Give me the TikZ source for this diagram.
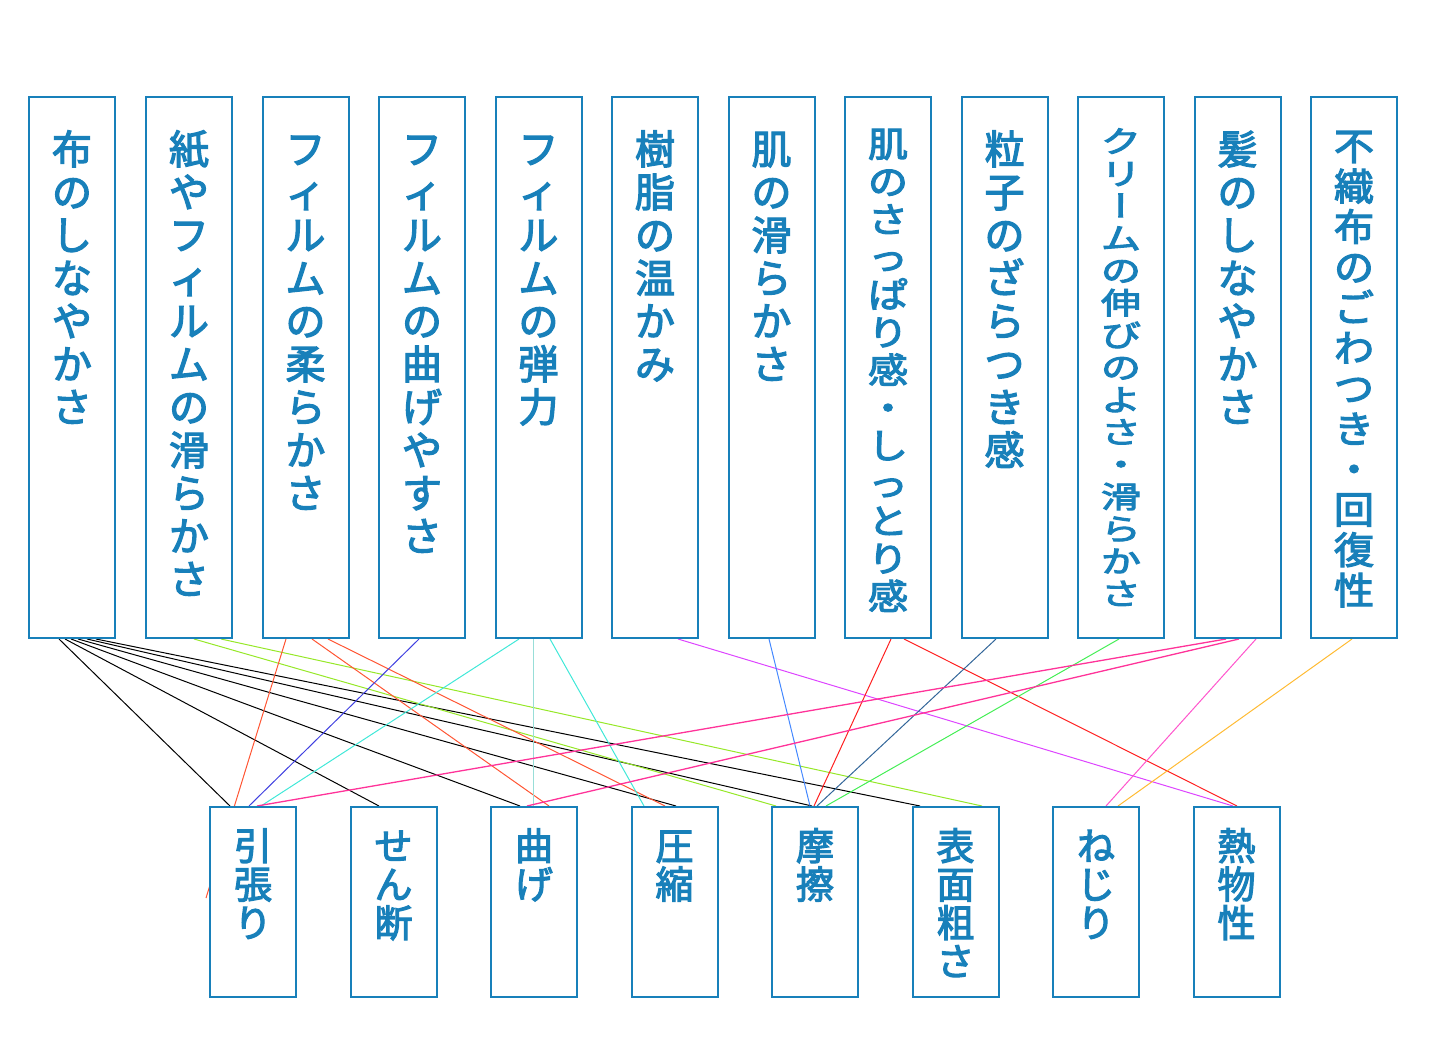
\documentclass[tikz,border=0pt]{standalone}
\usepackage{fontspec}
\usepackage{graphicx}
\setmainfont{Noto Sans CJK JP}[FakeBold=3]
\newfontfamily\vertfont[RawFeature=+vert, FakeBold=3]{Noto Sans CJK JP}
\usetikzlibrary{backgrounds}

\definecolor{boxblue}{RGB}{24,128,186}
\definecolor{limeln}{RGB}{150,232,40}
\definecolor{tomatoln}{RGB}{255,85,51}
\definecolor{blueln}{RGB}{64,64,224}
\definecolor{cyanln}{RGB}{64,232,216}
\definecolor{violetln}{RGB}{221,68,255}
\definecolor{cornln}{RGB}{68,136,255}
\definecolor{redln}{RGB}{255,32,32}
\definecolor{steelln}{RGB}{51,102,153}
\definecolor{greenln}{RGB}{68,238,85}
\definecolor{pinkln}{RGB}{255,51,153}
\definecolor{lpinkln}{RGB}{255,85,204}
\definecolor{orangeln}{RGB}{255,187,51}

% one character per line, vertical text
\newcommand\tatechar[1]{\ifx ー#1{\vertfont ー}\else #1\fi}
\def\tateloop#1{\ifx\relax#1\else
  \hbox to 40pt{\hss\scalebox{1}[\tatescale]{\tatechar{#1}}\hss}%
  \expandafter\tateloop\fi}
\newcommand\tate[5]{\vbox to #1{\hsize=40pt\baselineskip=#3\lineskiplimit=-100pt
  \def\tatescale{#4}\hbox{}\vskip\dimexpr#2-#3\relax
  \tateloop#5\relax\vss}}

\tikzset{
  topbox/.style={draw=boxblue, line width=1pt, fill=white, inner sep=0pt,
    minimum width=43pt, text=boxblue, font=\fontsize{20pt}{21.5pt}\selectfont},
  botbox/.style={topbox, font=\fontsize{19pt}{20pt}\selectfont},
  link/.style={line width=0.5pt},
}

\begin{document}
\begin{tikzpicture}[x=0.5pt, y=-0.5pt]
    \useasboundingbox (0,0) rectangle (1434,1037);

    % upper row
    \node[topbox] (t1) at (72,367.5) {\tate{270.5pt}{33.5pt}{21.5pt}{1}{布のしなやかさ}};
    \node[topbox] (t2) at (189,367.5) {\tate{270.5pt}{33.5pt}{21.5pt}{1}{紙やフィルムの滑らかさ}};
    \node[topbox] (t3) at (305.5,367.5) {\tate{270.5pt}{33.5pt}{21.5pt}{1}{フィルムの柔らかさ}};
    \node[topbox] (t4) at (422,367.5) {\tate{270.5pt}{33.5pt}{21.5pt}{1}{フィルムの曲げやすさ}};
    \node[topbox] (t5) at (538.5,367.5) {\tate{270.5pt}{33.5pt}{21.5pt}{1}{フィルムの弾力}};
    \node[topbox] (t6) at (655,367.5) {\tate{270.5pt}{33.5pt}{21.5pt}{1}{樹脂の温かみ}};
    \node[topbox] (t7) at (771.5,367.5) {\tate{270.5pt}{33.5pt}{21.5pt}{1}{肌の滑らかさ}};
    \node[topbox] (t8) at (888,367.5) {\tate{270.5pt}{30pt}{18.85pt}{0.877}{肌のさっぱり感・しっとり感}};
    \node[topbox] (t9) at (1004.5,367.5) {\tate{270.5pt}{33.5pt}{21.5pt}{1}{粒子のざらつき感}};
    \node[topbox] (t10) at (1121,367.5) {\tate{270.5pt}{27.75pt}{16.15pt}{0.75}{クリームの伸びのよさ・滑らかさ}};
    \node[topbox] (t11) at (1237.5,367.5) {\tate{270.5pt}{33.5pt}{21.5pt}{1}{髪のしなやかさ}};
    \node[topbox] (t12) at (1354,367.5) {\tate{270.5pt}{31.5pt}{20.2pt}{0.94}{不織布のごわつき・回復性}};

    % lower row
    \node[botbox] (b1) at (253,902) {\tate{95pt}{26.5pt}{19.25pt}{1}{引張り}};
    \node[botbox] (b2) at (393.5,902) {\tate{95pt}{26.5pt}{19.25pt}{1}{せん断}};
    \node[botbox] (b3) at (534,902) {\tate{95pt}{26.5pt}{19.25pt}{1}{曲げ}};
    \node[botbox] (b4) at (674.5,902) {\tate{95pt}{26.5pt}{19.25pt}{1}{圧縮}};
    \node[botbox] (b5) at (815,902) {\tate{95pt}{26.5pt}{19.25pt}{1}{摩擦}};
    \node[botbox] (b6) at (955.5,902) {\tate{95pt}{26.5pt}{19.25pt}{1}{表面粗さ}};
    \node[botbox] (b7) at (1096,902) {\tate{95pt}{26.5pt}{19.25pt}{1}{ねじり}};
    \node[botbox] (b8) at (1236.5,902) {\tate{95pt}{26.5pt}{19.25pt}{1}{熱物性}};

    \coordinate (t3end) at (206,898);

    \begin{scope}[on background layer]
        \draw[link, black] ([xshift=-6.5pt]t1.south) -- ([xshift=-11.5pt]b1.north);
        \draw[link, black] ([xshift=-3.5pt]t1.south) -- ([xshift=-7.25pt]b2.north);
        \draw[link, black] ([xshift=-0.5pt]t1.south) -- ([xshift=-7pt]b3.north);
        \draw[link, black] ([xshift=3pt]t1.south) -- ([xshift=0.75pt]b4.north);
        \draw[link, black] ([xshift=7.5pt]t1.south) -- ([xshift=-1.5pt]b5.north);
        \draw[link, black] ([xshift=12pt]t1.south) -- ([xshift=-17.75pt]b6.north);

        \draw[link, limeln] ([xshift=2.5pt]t2.south) -- ([xshift=-19.5pt]b5.north);
        \draw[link, limeln] ([xshift=16pt]t2.south) -- ([xshift=13.25pt]b6.north);

        \draw[link, tomatoln] ([xshift=-9.75pt]t3.south) -- (t3end);
        \draw[link, tomatoln] ([xshift=3.25pt]t3.south) -- ([xshift=7.5pt]b3.north);
        \draw[link, tomatoln] ([xshift=11.25pt]t3.south) -- ([xshift=-4.75pt]b4.north);

        \draw[link, blueln] ([xshift=-1.5pt]t4.south) -- ([xshift=-2pt]b1.north);

        \draw[link, cyanln] ([xshift=-9.75pt]t5.south) -- ([xshift=4pt]b1.north);
        \draw[link, cyanln!70!gray!60] ([xshift=-2.75pt]t5.south) -- ([xshift=-0.5pt]b3.north);
        \draw[link, cyanln] ([xshift=5.75pt]t5.south) -- ([xshift=-15.25pt]b4.north);

        \draw[link, violetln] ([xshift=11.5pt]t6.south) -- ([xshift=-1.75pt]b8.north);
        \draw[link, cornln] ([xshift=-1.25pt]t7.south) -- ([xshift=-2.5pt]b5.north);

        \draw[link, redln] ([xshift=1.5pt]t8.south) -- ([xshift=-0.5pt]b5.north);
        \draw[link, redln] ([xshift=8pt]t8.south) -- ([xshift=0.25pt]b8.north);

        \draw[link, steelln] ([xshift=-4.25pt]t9.south) -- ([xshift=1pt]b5.north);
        \draw[link, greenln] ([xshift=-1pt]t10.south) -- ([xshift=5.5pt]b5.north);

        \draw[link, pinkln, line width=0.65pt] ([xshift=-5.75pt]t11.south) -- ([xshift=2pt]b1.north);
        \draw[link, pinkln, line width=0.65pt] ([xshift=0.75pt]t11.south) -- ([xshift=-3.5pt]b3.north);
        \draw[link, lpinkln] ([xshift=9.25pt]t11.south) -- ([xshift=5pt]b7.north);

        \draw[link, orangeln] ([xshift=-1pt]t12.south) -- ([xshift=11pt]b7.north);
    \end{scope}
\end{tikzpicture}
\end{document}
